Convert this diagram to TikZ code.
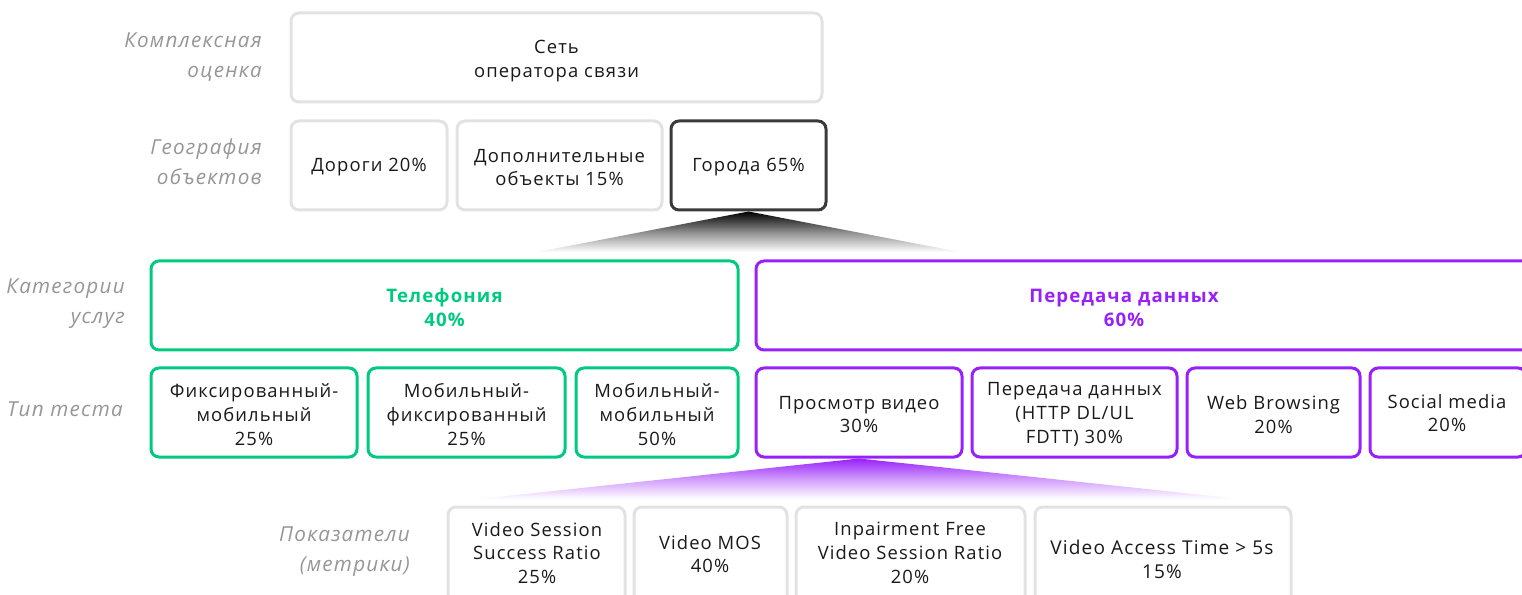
\documentclass[tikz,border=0pt]{standalone}
\usepackage{fontspec}
\setmainfont{Open Sans}[LetterSpace=6]
\usetikzlibrary{fit,backgrounds}
\definecolor{tgreen}{RGB}{0,202,128}
\definecolor{tpurple}{RGB}{152,32,250}
\definecolor{lgray}{RGB}{226,226,226}
\definecolor{dgray}{RGB}{58,58,58}
\definecolor{lblgray}{RGB}{150,150,150}
\definecolor{txt}{RGB}{25,25,25}
\tikzset{
  box/.style={draw=lgray, line width=2.25pt, rounded corners=6pt, inner sep=0pt},
  darkbox/.style={box, draw=dgray},
  gbox/.style={box, draw=tgreen},
  pbox/.style={box, draw=tpurple},
  tx/.style={align=center, text=txt, inner sep=0pt, yshift=-1.5pt, font=\fontsize{13.8}{17.8}\selectfont},
  btx/.style={tx, font=\fontsize{14}{18}\selectfont\bfseries},
  lbl/.style={anchor=east, align=right, text=lblgray, inner sep=0pt,
    font=\fontsize{15.5}{22.5}\selectfont\itshape},
}
\begin{document}
\begin{tikzpicture}[x=0.75pt,y=-0.75pt]
\useasboundingbox (0,0) rectangle (1522,595);
% labels
\node[lbl] (l1) at (262,57) {Комплексная\\оценка};
\node[lbl] (l2) at (262,162) {География\\объектов};
\node[lbl] (l3) at (125,304) {Категории\\услуг};
\node[lbl] (l4) at (123,409) {Тип теста};
\node[lbl] (l5) at (410,552) {Показатели\\(метрики)};
% row 1
\node[box, fit={(291,13) (822,102)}] (net) {};
\node[tx, yshift=-1pt] at (net.center) {Сеть\\оператора связи};
% row 2
\node[box, fit={(291,121) (447,210)}] (roads) {};
\node[tx] at (roads.center) {Дороги 20\%};
\node[box, fit={(457,121) (662,210)}] (extra) {};
\node[tx] at (extra.center) {Дополнительные\\объекты 15\%};
\node[darkbox, fit={(671,121) (826,210)}] (cities) {};
\node[tx] at (cities.center) {Города 65\%};
% row 3
\node[gbox, fit={(151,261) (738,350)}] (tel) {};
\node[btx, text=tgreen] at (tel.center) {Телефония\\40\%};
\node[pbox, fit={(756,261) (1540,350)}] (data) {};
\node[btx, text=tpurple] at (1124,306) {Передача данных\\60\%};
% row 4
\node[gbox, fit={(151,368) (357,457)}] (fm) {};
\node[tx] at (fm.center) {Фиксированный-\\мобильный\\25\%};
\node[gbox, fit={(368,368) (565,457)}] (mf) {};
\node[tx] at (mf.center) {Мобильный-\\фиксированный\\25\%};
\node[gbox, fit={(576,368) (738,457)}] (mm) {};
\node[tx] at (mm.center) {Мобильный-\\мобильный\\50\%};
\node[pbox, fit={(756,368) (962,457)}] (video) {};
\node[tx] at (video.center) {Просмотр видео\\30\%};
\node[pbox, fit={(972,368) (1177,457)}] (http) {};
\node[tx] at (http.center) {Передача данных\\(HTTP DL/UL\\FDTT) 30\%};
\node[pbox, fit={(1187,368) (1360,457)}] (web) {};
\node[tx] at (web.center) {Web Browsing\\20\%};
\node[pbox, fit={(1370,368) (1526,457)}] (social) {};
\node[tx] at (1447,411) {Social media\\20\%};
% row 5
\node[box, fit={(448,507) (625,612)}] (vssr) {};
\node[box, fit={(634,507) (787,612)}] (mos) {};
\node[box, fit={(796,507) (1025,612)}] (ifvsr) {};
\node[box, fit={(1035,507) (1291,612)}] (vat) {};
\node[tx] at (537,551) {Video Session\\Success Ratio\\25\%};
\node[tx] at (710,552) {Video MOS\\40\%};
\node[tx] at (910,551) {Inpairment Free\\Video Session Ratio\\20\%};
\node[tx, font=\fontsize{14.3}{17.8}\selectfont] at (1162,557) {Video Access Time > 5s\\15\%};
% fans
\coordinate (f1l) at (537,252);
\coordinate (f1r) at (960,252);
\coordinate (f2l) at (478,499);
\coordinate (f2r) at (1241,499);
\begin{scope}[on background layer]
\shade[top color=black, bottom color=white, middle color=black!45] (cities.south) -- (f1l) -- (f1r) -- cycle;
\shade[top color=tpurple, bottom color=white, middle color=tpurple!45] (video.south) -- (f2l) -- (f2r) -- cycle;
\end{scope}
\end{tikzpicture}
\end{document}
